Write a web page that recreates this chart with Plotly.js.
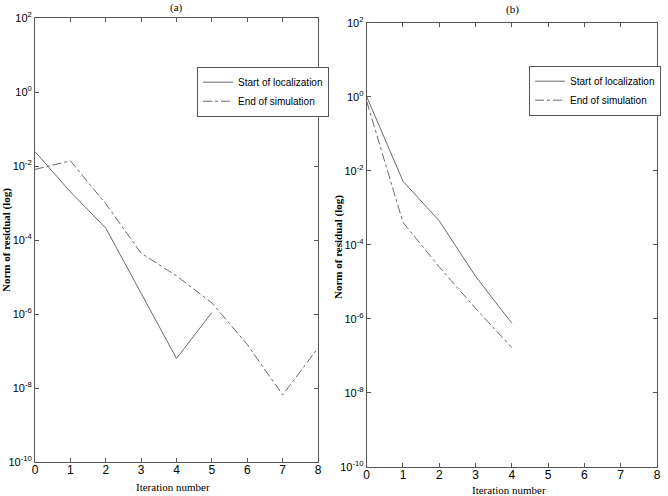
<!DOCTYPE html>
<html><head><meta charset="utf-8">
<script src="https://cdn.plot.ly/plotly-3.0.1.min.js"></script>
<style>body{margin:0;background:#fff}#c{width:668px;height:496px}</style>
</head><body><div id="c"></div>
<script>
const iterA = [0,1,2,3,4,5];
const startA = [0.0245, 2.0e-3, 2.1e-4, 3.6e-6, 6.3e-8, 1.1e-6];
const iterA2 = [0,1,2,3,4,5,6,7,8];
const endA = [8.1e-3, 1.38e-2, 9.5e-4, 4.4e-5, 1.07e-5, 2.0e-6, 1.5e-7, 6.5e-9, 1.2e-7];
const iterB = [0,1,2,3,4];
const startB = [1.0, 5.2e-3, 4.4e-4, 1.4e-5, 7.5e-7];
const endB = [0.75, 4.0e-4, 2.5e-5, 1.9e-6, 1.65e-7];
const seriesNames = ["Start of localization", "End of simulation"];
const panelTitles = ["(a)", "(b)"];
const xTitle = "Iteration number";
const yTitle = "Norm of residual (log)";
const yTickVals = [1e2, 1e0, 1e-2, 1e-4, 1e-6, 1e-8, 1e-10];
const yTickText = ["10<sup>2</sup>", "10<sup>0</sup>", "10<sup>-2</sup>", "10<sup>-4</sup>", "10<sup>-6</sup>", "10<sup>-8</sup>", "10<sup>-10</sup>"];

const lineCol = "#6a6a6a";
const traces = [
  {x: iterA, y: startA, name: seriesNames[0], xaxis:'x', yaxis:'y', legend:'legend', mode:'lines', line:{color:lineCol, width:1, dash:'solid'}},
  {x: iterA2, y: endA, name: seriesNames[1], xaxis:'x', yaxis:'y', legend:'legend', mode:'lines', line:{color:lineCol, width:1, dash:'dashdot'}},
  {x: iterB, y: startB, name: seriesNames[0], xaxis:'x2', yaxis:'y2', legend:'legend2', mode:'lines', line:{color:lineCol, width:1, dash:'solid'}},
  {x: iterB, y: endB, name: seriesNames[1], xaxis:'x2', yaxis:'y2', legend:'legend2', mode:'lines', line:{color:lineCol, width:1, dash:'dashdot'}}
];
const W=668, H=496;
const tickFont = {family:'Liberation Sans, Arial, sans-serif', size:12, color:'#000'};
const yTickFont = {family:'Liberation Sans, Arial, sans-serif', size:11, color:'#000'};
function xax(d, anchor){ return {domain:d, anchor:anchor, range:[0,8], dtick:1, tick0:0, ticks:'inside', ticklen:4, tickcolor:'#555',
  showline:true, linecolor:'#555', linewidth:1, mirror:'ticks', showgrid:false, zeroline:false, tickfont:tickFont, ticklabelstandoff:-3}; }
function yax(d, anchor){ return {domain:d, anchor:anchor, type:'log', range:[-10,2], tickmode:'array', tickvals:yTickVals, ticktext:yTickText,
  ticks:'inside', ticklen:4, tickcolor:'#555', showline:true, linecolor:'#555', linewidth:1, mirror:'ticks', showgrid:false, zeroline:false, tickfont:yTickFont}; }
const serif = {family:'Liberation Serif, Times New Roman, serif', size:11, color:'#000'};
function ann(text, x, y, extra){ return Object.assign({text:text, x:x/W, y:1-y/H, xref:'paper', yref:'paper', showarrow:false, xanchor:'center', yanchor:'middle', font:serif}, extra||{}); }
const legFont = {family:'Liberation Sans, Arial, sans-serif', size:10, color:'#000'};
const layout = {
  width:W, height:H, margin:{l:0,r:0,t:0,b:0}, paper_bgcolor:'#fff', plot_bgcolor:'#fff',
  xaxis: xax([35/W, 318/W], 'y'),
  yaxis: yax([1-462/H, 1-18/H], 'x'),
  xaxis2: xax([366.7/W, 657/W], 'y2'),
  yaxis2: yax([1-466.7/H, 1-22.7/H], 'x2'),
  legend: {x:197/W, y:1-66.7/H, xanchor:'left', yanchor:'top', bgcolor:'#fff', bordercolor:'#555', borderwidth:1,
    font:legFont, tracegroupgap:0, itemwidth:30},
  legend2: {x:529/W, y:1-65.7/H, xanchor:'left', yanchor:'top', bgcolor:'#fff', bordercolor:'#555', borderwidth:1,
    font:legFont, tracegroupgap:0, itemwidth:30},
  showlegend:true,
  annotations: [
    ann(panelTitles[0], 176, 7),
    ann(panelTitles[1], 512, 9),
    ann(xTitle, 173, 487),
    ann(xTitle, 509, 490),
    ann('<b>'+yTitle+'</b>', 6, 240, {textangle:-90}),
    ann('<b>'+yTitle+'</b>', 338, 247, {textangle:-90})
  ]
};
Plotly.newPlot('c', traces, layout, {displayModeBar:false, staticPlot:true});
</script></body></html>
